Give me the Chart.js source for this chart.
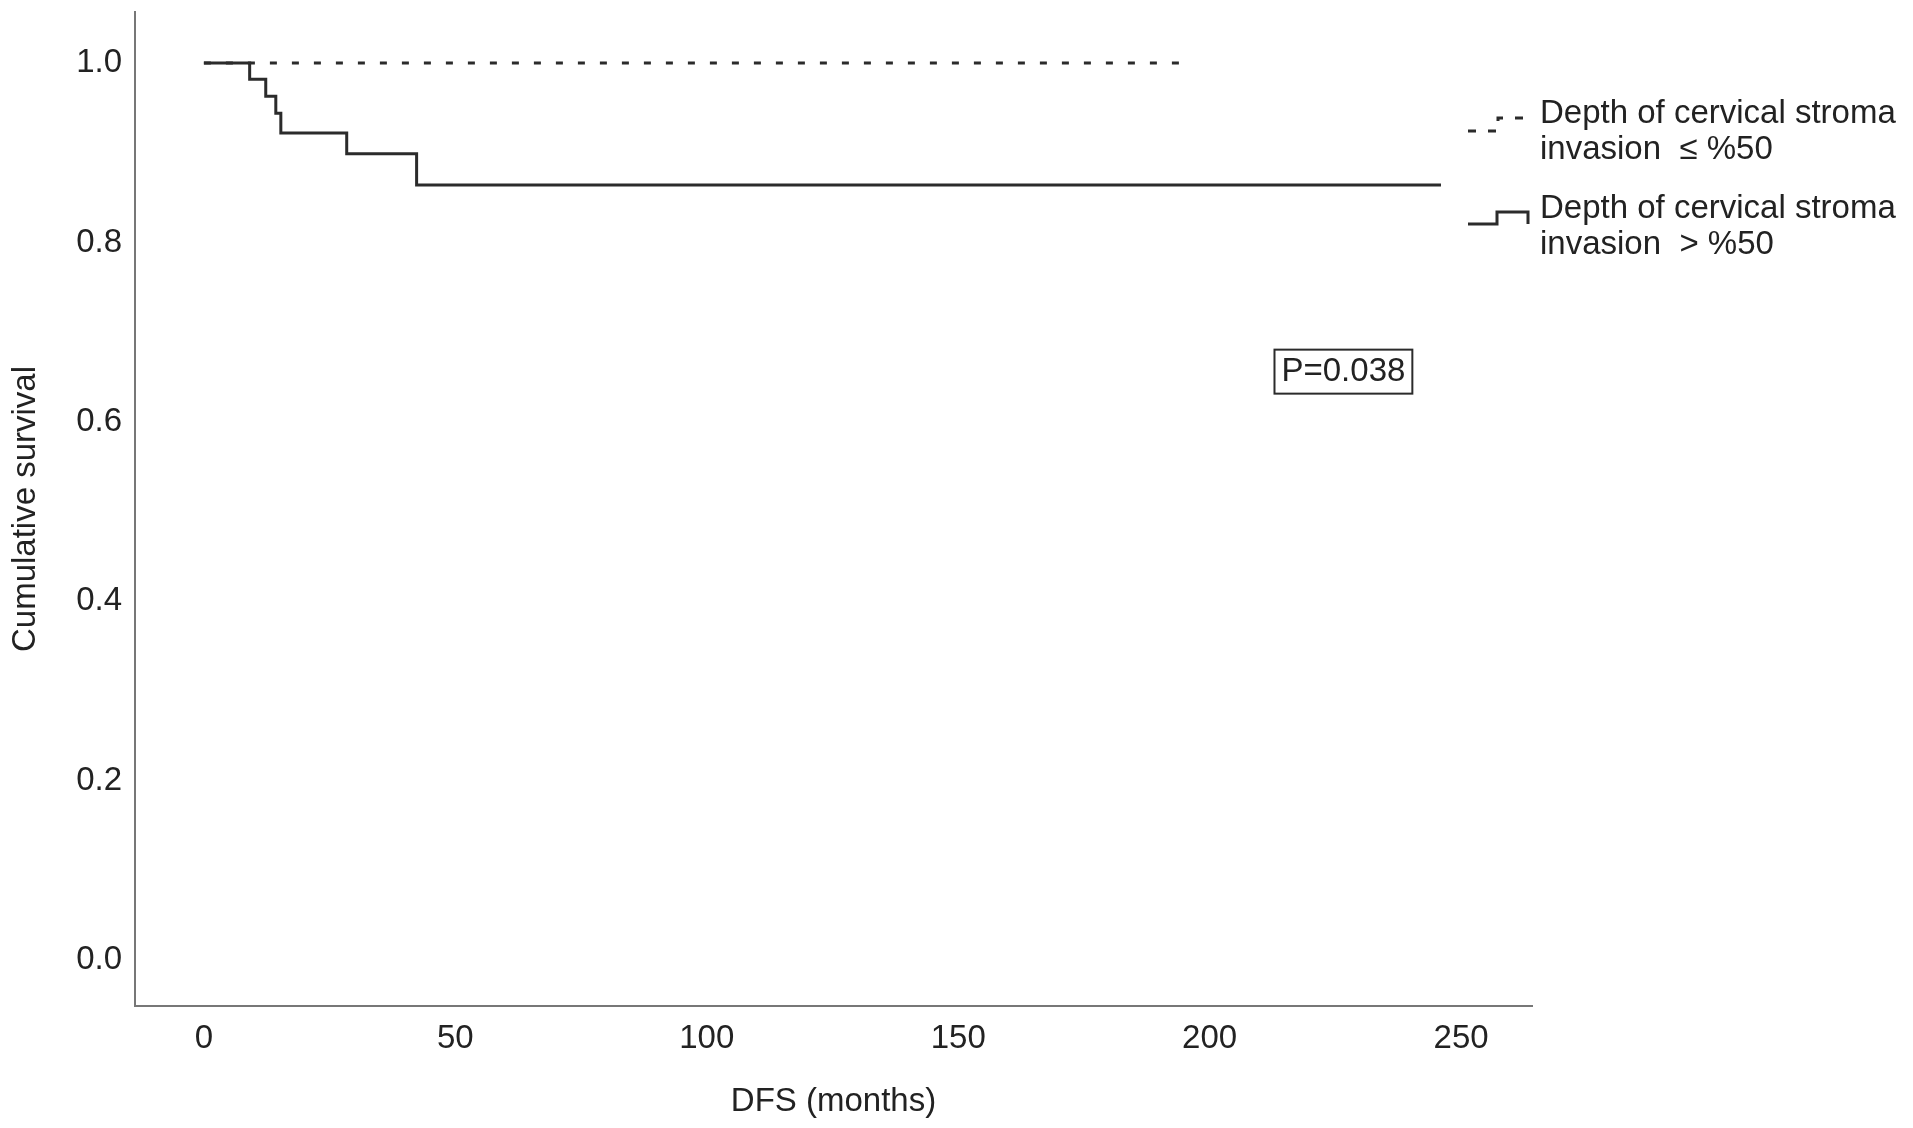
<!DOCTYPE html>
<html>
<head>
<meta charset="utf-8">
<script src="https://cdn.jsdelivr.net/npm/chart.js@4.4.1/dist/chart.umd.min.js"></script>
<style>
  html, body { margin: 0; padding: 0; background: #fff; }
  #wrap { width: 1913px; height: 1128px; }
</style>
</head>
<body>
<div id="wrap"><canvas id="km"></canvas></div>
<script>
// Survival data
const lowTimes = [0, 194];
const lowSurvival = [1.0, 1.0];
const highTimes = [0, 9.1, 12.3, 14.3, 15.3, 28.4, 42.3, 246];
const highSurvival = [1.0, 0.982, 0.963, 0.944, 0.922, 0.899, 0.864, 0.864];

// Axis ticks
const xTicks = [0, 50, 100, 150, 200, 250];
const yTicks = [0, 0.2, 0.4, 0.6, 0.8, 1.0];

// Legend / annotation text
const legendLines = [
  ['Depth of cervical stroma', 'invasion  \u2264 %50'],
  ['Depth of cervical stroma', 'invasion  > %50'],
];
const pValueText = 'P=0.038';

const FONT = '"Liberation Sans", Arial, Helvetica, sans-serif';
const textColor = '#222';
const lineColor = '#2b2b2b';
const axisColor = '#777';

function toPoints(xs, ys) {
  return xs.map((x, i) => ({ x: x, y: ys[i] }));
}

// Legend and P value box, drawn on top of the chart
const extras = {
  id: 'extras',
  afterDraw(chart) {
    const ctx = chart.ctx;
    const area = chart.chartArea;
    const xs = chart.scales.x;
    const ys = chart.scales.y;
    ctx.save();

    // legend icons
    const ix = area.right - 64;
    ctx.strokeStyle = lineColor;
    ctx.lineWidth = 3;
    ctx.setLineDash([8, 12]);
    ctx.beginPath();
    ctx.moveTo(ix, 131);
    ctx.lineTo(ix + 30, 131);
    ctx.lineTo(ix + 30, 118);
    ctx.lineTo(ix + 60, 118);
    ctx.stroke();
    ctx.setLineDash([]);
    ctx.beginPath();
    ctx.moveTo(ix, 224);
    ctx.lineTo(ix + 29, 224);
    ctx.lineTo(ix + 29, 212);
    ctx.lineTo(ix + 60, 212);
    ctx.lineTo(ix + 60, 224);
    ctx.stroke();

    // legend text
    ctx.fillStyle = textColor;
    ctx.font = '33px ' + FONT;
    ctx.textAlign = 'left';
    ctx.textBaseline = 'middle';
    const tx = area.right + 8;
    const rows = [[114, 150], [209, 245]];
    legendLines.forEach((lines, i) => {
      lines.forEach((t, j) => ctx.fillText(t, tx, rows[i][j]));
    });

    // P value box
    const px = xs.getPixelForValue(226.6);
    const py = ys.getPixelForValue(0.656);
    const w = ctx.measureText(pValueText).width + 14;
    const h = 44;
    ctx.textAlign = 'center';
    ctx.fillText(pValueText, px, py);
    ctx.lineWidth = 2;
    ctx.strokeRect(px - w / 2, py - h / 2, w, h);
    ctx.restore();
  }
};

new Chart(document.getElementById('km'), {
  type: 'line',
  data: {
    datasets: [
      {
        label: 'Depth of cervical stroma invasion \u2264 %50',
        data: toPoints(lowTimes, lowSurvival),
        borderColor: lineColor,
        borderWidth: 3,
        borderDash: [7, 15],
        pointRadius: 0,
        fill: false,
      },
      {
        label: 'Depth of cervical stroma invasion > %50',
        data: toPoints(highTimes, highSurvival),
        borderColor: lineColor,
        borderWidth: 3,
        stepped: 'before',
        pointRadius: 0,
        fill: false,
      },
    ],
  },
  options: {
    responsive: true,
    maintainAspectRatio: false,
    animation: false,
    layout: { padding: { top: 12, right: 381, left: 0, bottom: 0 } },
    plugins: {
      legend: { display: false },
      tooltip: { enabled: false },
    },
    scales: {
      x: {
        type: 'linear',
        min: -13.7,
        max: 264.1,
        grid: { display: false },
        border: { display: true, color: axisColor, width: 2 },
        afterBuildTicks: (s) => { s.ticks = xTicks.map((v) => ({ value: v })); },
        afterFit: (s) => { s.height = 122; s.paddingLeft = 0; s.paddingRight = 0; },
        ticks: {
          padding: 5,
          color: textColor,
          font: { family: FONT, size: 33 },
          callback: (v) => String(v),
        },
        title: {
          display: true,
          text: 'DFS (months)',
          color: textColor,
          font: { family: FONT, size: 33 },
          padding: { top: 0, bottom: 6 },
        },
      },
      y: {
        type: 'linear',
        min: -0.0513,
        max: 1.057,
        grid: { display: false },
        border: { display: true, color: axisColor, width: 2 },
        afterBuildTicks: (s) => { s.ticks = yTicks.map((v) => ({ value: v })); },
        afterFit: (s) => { s.width = 135; s.paddingTop = 0; s.paddingBottom = 0; },
        ticks: {
          padding: 5,
          color: textColor,
          font: { family: FONT, size: 33 },
          callback: (v) => Number(v).toFixed(1),
        },
        title: {
          display: true,
          text: 'Cumulative survival',
          color: textColor,
          font: { family: FONT, size: 33 },
          padding: { top: 6, bottom: 0 },
        },
      },
    },
  },
  plugins: [extras],
});
</script>
</body>
</html>
